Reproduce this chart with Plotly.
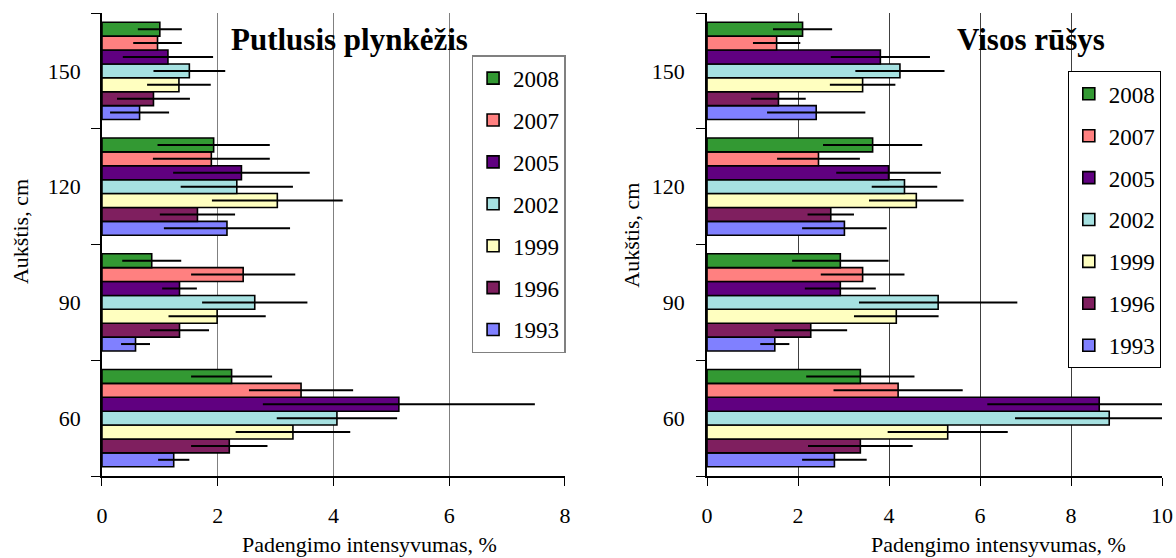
import plotly.graph_objects as go

heights = ["60", "90", "120", "150"]
years = ["1993", "1996", "1999", "2002", "2005", "2007", "2008"]
colors = ["#8080FF", "#7F1F5F", "#FFFFC0", "#A6E1E1", "#600080", "#FF8080", "#339933"]

# Putlusis plynkėžis: values per year for heights 60, 90, 120, 150
left_vals = {
    "1993": [1.24, 0.58, 2.16, 0.65],
    "1996": [2.20, 1.34, 1.65, 0.89],
    "1999": [3.30, 1.99, 3.03, 1.33],
    "2002": [4.06, 2.64, 2.33, 1.51],
    "2005": [5.13, 1.34, 2.41, 1.14],
    "2007": [3.44, 2.44, 1.89, 0.96],
    "2008": [2.24, 0.86, 1.93, 1.00],
}
left_err = {
    "1993": [0.27, 0.25, 1.09, 0.51],
    "1996": [0.66, 0.51, 0.65, 0.63],
    "1999": [0.99, 0.84, 1.13, 0.55],
    "2002": [1.04, 0.91, 0.97, 0.62],
    "2005": [2.35, 0.30, 1.18, 0.78],
    "2007": [0.90, 0.90, 1.01, 0.42],
    "2008": [0.70, 0.51, 0.97, 0.38],
}
# Visos rūšys
right_vals = {
    "1993": [2.80, 1.49, 3.02, 2.40],
    "1996": [3.37, 2.28, 2.72, 1.57],
    "1999": [5.29, 4.16, 4.60, 3.42],
    "2002": [8.84, 5.08, 4.34, 4.24],
    "2005": [8.62, 2.93, 3.99, 3.81],
    "2007": [4.20, 3.42, 2.45, 1.53],
    "2008": [3.37, 2.93, 3.64, 2.10],
}
right_err = {
    "1993": [0.71, 0.32, 0.93, 1.08],
    "1996": [1.15, 0.80, 0.51, 0.60],
    "1999": [1.32, 0.93, 1.04, 0.72],
    "2002": [2.07, 1.74, 0.72, 0.98],
    "2005": [2.46, 0.78, 1.15, 1.09],
    "2007": [1.42, 0.92, 0.91, 0.52],
    "2008": [1.19, 1.06, 1.09, 0.65],
}

FONT = "Liberation Serif"
fig = go.Figure()

for side, vals, errs, xa, ya, leg in [
    ("L", left_vals, left_err, "x", "y", "legend"),
    ("R", right_vals, right_err, "x2", "y2", "legend2"),
]:
    for i, (yr, col) in enumerate(zip(years, colors)):
        fig.add_trace(go.Bar(
            y=heights, x=vals[yr], orientation="h", name=yr,
            marker=dict(color=col, line=dict(color="black", width=1.6)),
            error_x=dict(type="data", array=errs[yr], symmetric=True,
                         color="black", thickness=2, width=0),
            xaxis=xa, yaxis=ya, legend=leg, legendgroup=side + yr,
            legendrank=100 - i,
        ))

axis_common = dict(
    showline=True, linecolor="black", linewidth=1.5,
    ticks="outside", tickcolor="black", automargin=False,
    tickfont=dict(family=FONT, size=22, color="black"),
)

def ann(text, x, y, size=22, angle=0):
    return dict(text=text, x=x, y=y, xref="paper", yref="paper",
                xanchor="center", yanchor="middle", textangle=angle,
                showarrow=False, font=dict(family=FONT, size=size, color="black"))

fig.update_layout(
    template="none",
    width=1176, height=558,
    margin=dict(l=0, r=0, t=13, b=82, pad=0, autoexpand=False),
    paper_bgcolor="white", plot_bgcolor="white",
    barmode="group", bargap=0.16, bargroupgap=0,
    font=dict(family=FONT, size=22, color="black"),
    xaxis=dict(domain=[0.0867, 0.4804], range=[0, 8], dtick=2,
               showgrid=True, gridcolor="#808080", gridwidth=1,
               zeroline=False, ticklen=8, ticklabelstandoff=11, anchor="y",
               **axis_common),
    yaxis=dict(domain=[0, 1], type="category", categoryorder="array",
               categoryarray=heights, tickson="boundaries", ticklen=9,
               ticklabelstandoff=15, showgrid=False, anchor="x", **axis_common),
    xaxis2=dict(domain=[0.6012, 0.9881], range=[0, 10], dtick=2,
                showgrid=True, gridcolor="#404040", gridwidth=1,
                zeroline=False, ticklen=8, ticklabelstandoff=11, anchor="y2",
                **axis_common),
    yaxis2=dict(domain=[0, 1], type="category", categoryorder="array",
                categoryarray=heights, tickson="boundaries", ticklen=9,
                ticklabelstandoff=16, showgrid=False, anchor="x2", **axis_common),
    legend=dict(x=0.401, y=0.909, xanchor="left", yanchor="top",
                bordercolor="#808080", borderwidth=1.5, bgcolor="white",
                traceorder="grouped", tracegroupgap=9,
                font=dict(family=FONT, size=23, color="black")),
    legend2=dict(x=0.908, y=0.874, xanchor="left", yanchor="top",
                 bordercolor="black", borderwidth=1, bgcolor="white",
                 traceorder="grouped", tracegroupgap=9,
                 font=dict(family=FONT, size=23, color="black")),
    annotations=[
        ann("<b>Putlusis plynkėžis</b>", 0.297, 0.942, 31),
        ann("<b>Visos rūšys</b>", 0.877, 0.942, 31),
        ann("Padengimo intensyvumas, %", 0.3146, -0.149),
        ann("Padengimo intensyvumas, %", 0.849, -0.149),
        ann("Aukštis, cm", 0.0179, 0.527, angle=-90),
        ann("Aukštis, cm", 0.537, 0.52, angle=-90),
    ],
)

fig.write_html("out.html", config={"displayModeBar": False},
               post_script="document.body.style.margin='0';")
